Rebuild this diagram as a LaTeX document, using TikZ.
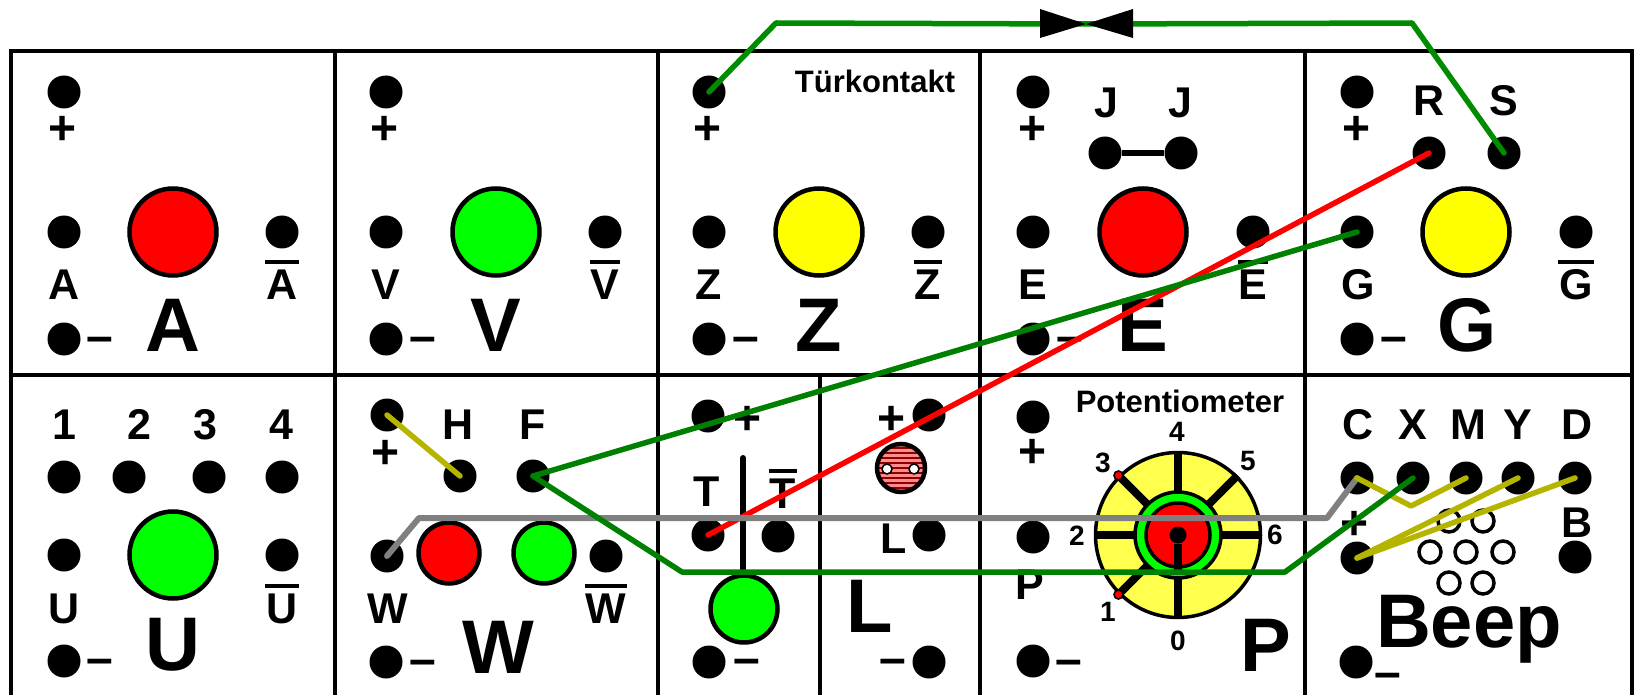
\documentclass[tikz,border=0pt]{standalone}
\usepackage{fontspec}
\setmainfont{Liberation Sans}
\newcommand{\ovl}[1]{\vbox{\hrule height 4pt\kern 5pt\hbox{\kern1pt#1\kern1pt}}}
\definecolor{wiregreen}{HTML}{008000}
\definecolor{wireolive}{HTML}{B5B500}
\definecolor{wiregrey}{HTML}{808080}
\definecolor{potyellow}{HTML}{FFFF4D}
\definecolor{lampred}{HTML}{FF0000}
\definecolor{lampgreen}{HTML}{00FF00}
\definecolor{lampyellow}{HTML}{FFFF00}
\begin{document}
\begin{tikzpicture}[x=1pt,y=-1pt,
   sock/.style={circle,fill=black,minimum size=33pt,inner sep=0pt},
   lamp/.style={circle,draw=black,line width=4.5pt,minimum size=87pt,inner sep=0pt},
   smalllamp/.style={lamp,minimum size=61pt},
   hole/.style={circle,draw=black,fill=white,line width=3.5pt,minimum size=22pt,inner sep=0pt},
   lab/.style={font=\fontsize{43}{43}\selectfont\bfseries,anchor=base,inner sep=0pt},
   sign/.style={font=\fontsize{48}{48}\selectfont\bfseries,inner sep=0pt},
   big/.style={font=\fontsize{76}{76}\selectfont\bfseries,anchor=base,inner sep=0pt},
   title/.style={font=\fontsize{31}{31}\selectfont\bfseries,inner sep=0pt},
   digit/.style={font=\fontsize{28}{28}\selectfont\bfseries,inner sep=0pt},
   spoke/.style={line width=8pt},
   frame/.style={line width=4.5pt},
   wire/.style={line width=5.5pt,line cap=round,line join=round}]
\useasboundingbox (0,0) rectangle (1634,695);
% frame
\draw[frame] (11,695) -- (11,51) -- (1632,51) -- (1632,695);
\draw[frame] (11,375) -- (1632,375);
\draw[frame] (335,51) -- (335,695);
\draw[frame] (658,51) -- (658,695);
\draw[frame] (980,51) -- (980,695);
\draw[frame] (1305,51) -- (1305,695);
\draw[frame] (820,375) -- (820,695);
% top row
\node[sock] (aplus) at (64,92) {};
\node[sign] (apluslab) at (63,130) {+};
\node[sock] (aleft) at (64,232) {};
\node[lamp,fill=lampred] (alamp) at (173,232) {};
\node[sock] (aright) at (282,232) {};
\node[lab] (alab) at (64,299) {A};
\node[lab] (ablab) at (282,299) {\ovl{A}};
\node[sock] (aminus) at (64,339) {};
\node[sign] (aminuslab) at (100,345) {–};
\node[big] (abig) at (173,351) {A};

\node[sock] (vplus) at (386,92) {};
\node[sign] (vpluslab) at (385,130) {+};
\node[sock] (vleft) at (386,232) {};
\node[lamp,fill=lampgreen] (vlamp) at (496,232) {};
\node[sock] (vright) at (605,232) {};
\node[lab] (vlab) at (386,299) {V};
\node[lab] (vblab) at (605,299) {\ovl{V}};
\node[sock] (vminus) at (386,339) {};
\node[sign] (vminuslab) at (423,345) {–};
\node[big] (vbig) at (496,351) {V};

\node[sock] (zplus) at (709,92) {};
\node[sign] (zpluslab) at (708,130) {+};
\node[title] (zdoor) at (875,81) {Türkontakt};
\node[sock] (zleft) at (709,232) {};
\node[lamp,fill=lampyellow] (zlamp) at (819,232) {};
\node[sock] (zright) at (928,232) {};
\node[lab] (zlab) at (709,299) {Z};
\node[lab] (zblab) at (928,299) {\ovl{Z}};
\node[sock] (zminus) at (709,339) {};
\node[sign] (zminuslab) at (746,345) {–};
\node[big] (zbig) at (819,351) {Z};

\node[sock] (eplus) at (1033,92) {};
\node[sign] (epluslab) at (1033,130) {+};
\node[lab] (jalab) at (1106,118) {J};
\node[lab] (jblab) at (1180,118) {J};
\node[sock] (ja) at (1105,153) {};
\node[sock] (jb) at (1181,153) {};
\node[sock] (eleft) at (1033,232) {};
\node[lamp,fill=lampred] (elamp) at (1143,232) {};
\node[sock] (eright) at (1253,232) {};
\node[lab] (elab) at (1033,299) {E};
\node[lab] (eblab) at (1253,299) {\ovl{E}};
\node[sock] (eminus) at (1033,339) {};
\node[sign] (eminuslab) at (1070,345) {–};
\node[big] (ebig) at (1143,351) {E};
\draw[line width=6pt] (ja) -- (jb);

\node[sock] (gplus) at (1357,92) {};
\node[sign] (gpluslab) at (1357,130) {+};
\node[lab] (rlab) at (1429,116) {R};
\node[lab] (slab) at (1504,116) {S};
\node[sock] (rsock) at (1429,153) {};
\node[sock] (ssock) at (1504,153) {};
\node[sock] (gleft) at (1357,232) {};
\node[lamp,fill=lampyellow] (glamp) at (1466,232) {};
\node[sock] (gright) at (1576,232) {};
\node[lab] (glab) at (1358,299) {G};
\node[lab] (gblab) at (1576,299) {\ovl{G}};
\node[sock] (gminus) at (1357,339) {};
\node[sign] (gminuslab) at (1394,345) {–};
\node[big] (gbig) at (1467,351) {G};
% U
\node[lab] (d1lab) at (64,439) {1};
\node[lab] (d2lab) at (139,439) {2};
\node[lab] (d3lab) at (205,439) {3};
\node[lab] (d4lab) at (281,439) {4};
\node[sock] (d1) at (64,477) {};
\node[sock] (d2) at (129,477) {};
\node[sock] (d3) at (209,477) {};
\node[sock] (d4) at (282,477) {};
\node[sock] (uleft) at (64,555) {};
\node[lamp,fill=lampgreen] (ulamp) at (173,555) {};
\node[sock] (uright) at (282,555) {};
\node[lab] (ulab) at (64,623) {U};
\node[lab] (ublab) at (282,623) {\ovl{U}};
\node[sock] (uminus) at (64,661) {};
\node[sign] (uminuslab) at (100,667) {–};
\node[big] (ubig) at (173,670) {U};
% W
\node[sock] (wplus) at (387,415) {};
\node[sign] (wpluslab) at (386,454) {+};
\node[lab] (hlab) at (458,439) {H};
\node[lab] (flab) at (533,439) {F};
\node[sock] (hsock) at (460,476) {};
\node[sock] (fsock) at (533,476) {};
\node[sock] (wleft) at (387,556) {};
\node[smalllamp,fill=lampred] (wred) at (449,553) {};
\node[smalllamp,fill=lampgreen] (wgreen) at (544,553) {};
\node[sock] (wright) at (606,556) {};
\node[lab] (wlab) at (388,623) {W};
\node[lab] (wblab) at (606,623) {\ovl{W}};
\node[sock] (wminus) at (386,662) {};
\node[sign] (wminuslab) at (423,668) {–};
\node[big] (wbig) at (498,673) {W};
% T
\node[sock] (tplus) at (708,416) {};
\node[sign] (tpluslab) at (748,420) {+};
\node[lab] (tlab) at (707,506) {T};
\node[lab] (tblab) at (783,508) {\ovl{T}};
\node[sock] (tleft) at (708,535) {};
\node[sock] (tright) at (778,536) {};
\coordinate (ttop) at (743,458);
\coordinate (tbot) at (743,585);
\draw[line width=6pt,line cap=round] (ttop) -- (tbot);
\node[lamp,fill=lampgreen,minimum size=67pt] (tlamp) at (744,609) {};
\node[sock] (tminus) at (709,662) {};
\node[sign] (tminuslab) at (747,667) {–};
% L
\node[sock] (lplus) at (929,415) {};
\node[sign] (lpluslab) at (892,420) {+};
\node[circle,fill=red!45!white,minimum size=48pt,inner sep=0pt] (ldr) at (901,468) {};
\begin{scope}
\clip (901,468) circle (24);
\foreach \dy in {-20,-15,...,20}
  \draw[red!55!black,line width=2.5pt] (870,468+\dy) -- (932,468+\dy);
\end{scope}
\node[circle,draw=black,line width=4.5pt,minimum size=48pt,inner sep=0pt] (ldrrim) at (901,468) {};
\node[circle,draw=black,fill=white,line width=1.5pt,minimum size=10pt,inner sep=0pt] (ldra) at (887,469) {};
\node[circle,draw=black,fill=white,line width=1.5pt,minimum size=10pt,inner sep=0pt] (ldrb) at (914,469) {};
\node[lab] (llab) at (894,553) {L};
\node[sock] (lsock) at (929,535) {};
\node[big] (lbig) at (870,632) {L};
\node[sock] (lminus) at (929,662) {};
\node[sign] (lminuslab) at (893,667) {–};
% P
\node[title] (ptitle) at (1180,401) {Potentiometer};
\node[sock] (pplus) at (1033,417) {};
\node[sign] (ppluslab) at (1033,453) {+};
\node[sock] (pleft) at (1033,537) {};
\node[lab] (plab) at (1030,599) {P};
\node[sock] (pminus) at (1033,661) {};
\node[sign] (pminuslab) at (1069,668) {–};
\node[big] (pbig) at (1266,671) {P};
\node[circle,draw=black,fill=potyellow,line width=3.5pt,minimum size=165pt,inner sep=0pt] (pot) at (1178,535) {};
\draw[spoke] (pot.north) -- (pot.south);
\draw[spoke] (pot.west) -- (pot.east);
\draw[spoke] (pot.135) -- (pot.center);
\draw[spoke] (pot.45) -- (pot.center);
\draw[spoke] (pot.225) -- (pot.center);
\node[circle,draw=black,fill=lampgreen,line width=3.5pt,minimum size=86pt,inner sep=0pt] (ring) at (1178,535) {};
\node[circle,draw=black,fill=lampred,line width=3.5pt,minimum size=64pt,inner sep=0pt] (hub) at (1178,535) {};
\node[circle,fill=black,minimum size=17pt,inner sep=0pt] (knob) at (1178,535) {};
\coordinate (knobend) at (1178,572);
\draw[spoke] (knob) -- (knobend);
\node[circle,draw=black,fill=lampred,line width=1.5pt,minimum size=9pt,inner sep=0pt] (pthree) at (pot.135) {};
\node[circle,draw=black,fill=lampred,line width=1.5pt,minimum size=9pt,inner sep=0pt] (pone) at (pot.225) {};
\node[digit] (p4) at (1177,432) {4};
\node[digit] (p5) at (1248,461) {5};
\node[digit] (p6) at (1275,535) {6};
\node[digit] (p3) at (1103,463) {3};
\node[digit] (p2) at (1077,536) {2};
\node[digit] (p1) at (1108,612) {1};
\node[digit] (p0) at (1178,641) {0};
% Beep
\node[lab] (clab) at (1358,439) {C};
\node[lab] (xlab) at (1413,439) {X};
\node[lab] (mlab) at (1468,439) {M};
\node[lab] (ylab) at (1518,439) {Y};
\node[lab] (dlab) at (1577,439) {D};
\node[sock] (csock) at (1357,478) {};
\node[sock] (xsock) at (1413,478) {};
\node[sock] (msock) at (1466,478) {};
\node[sock] (ysock) at (1518,478) {};
\node[sock] (dsock) at (1575,478) {};
\node[sign] (bpluslab) at (1355,525) {+};
\node[lab] (blab) at (1577,537) {B};
\node[sock] (bplus) at (1357,558) {};
\node[sock] (bsock) at (1575,557) {};
\node[hole] (ha) at (1449,521) {};
\node[hole] (hb) at (1483,521) {};
\node[hole] (hc) at (1430,552) {};
\node[hole] (hd) at (1466,552) {};
\node[hole] (he) at (1503,552) {};
\node[hole] (hf) at (1449,583) {};
\node[hole] (hg) at (1483,583) {};
\node[big] (beep) at (1469,647) {Beep};
\node[sock] (bminus) at (1356,662) {};
\node[sign] (bminuslab) at (1388,681) {–};
% wires
\coordinate (wirea) at (776,23);
\coordinate (wireb) at (1412,23);
\coordinate (greya) at (419,518);
\coordinate (greyb) at (1327,518);
\coordinate (greena) at (682,572);
\coordinate (greenb) at (1285,572);
\coordinate (olivea) at (1411,506);
\coordinate (valve) at (1086,24);
\draw[wire,red] (rsock.center) -- (tleft.center);
\draw[wire,wiregrey,line width=6pt] (wleft.center) -- (greya) -- (greyb) -- (csock.center);
\draw[wire,wireolive] (wplus.center) -- (hsock.center);
\draw[wire,wireolive] (csock.center) -- (olivea) -- (msock.center);
\draw[wire,wireolive] (bplus.center) -- (ysock.center);
\draw[wire,wireolive] (bplus.center) -- (dsock.center);
\draw[wire,wiregreen] (fsock.center) -- (gleft.center);
\draw[wire,wiregreen] (fsock.center) -- (greena) -- (greenb) -- (xsock.center);
\draw[wire,green!55!black] (zplus.center) -- (wirea) -- (valve) -- (wireb) -- (ssock.center);
\fill (valve) -- (1040,9) -- (1040,38) -- cycle;
\fill (valve) -- (1133,9) -- (1133,38) -- cycle;
\end{tikzpicture}
\end{document}
